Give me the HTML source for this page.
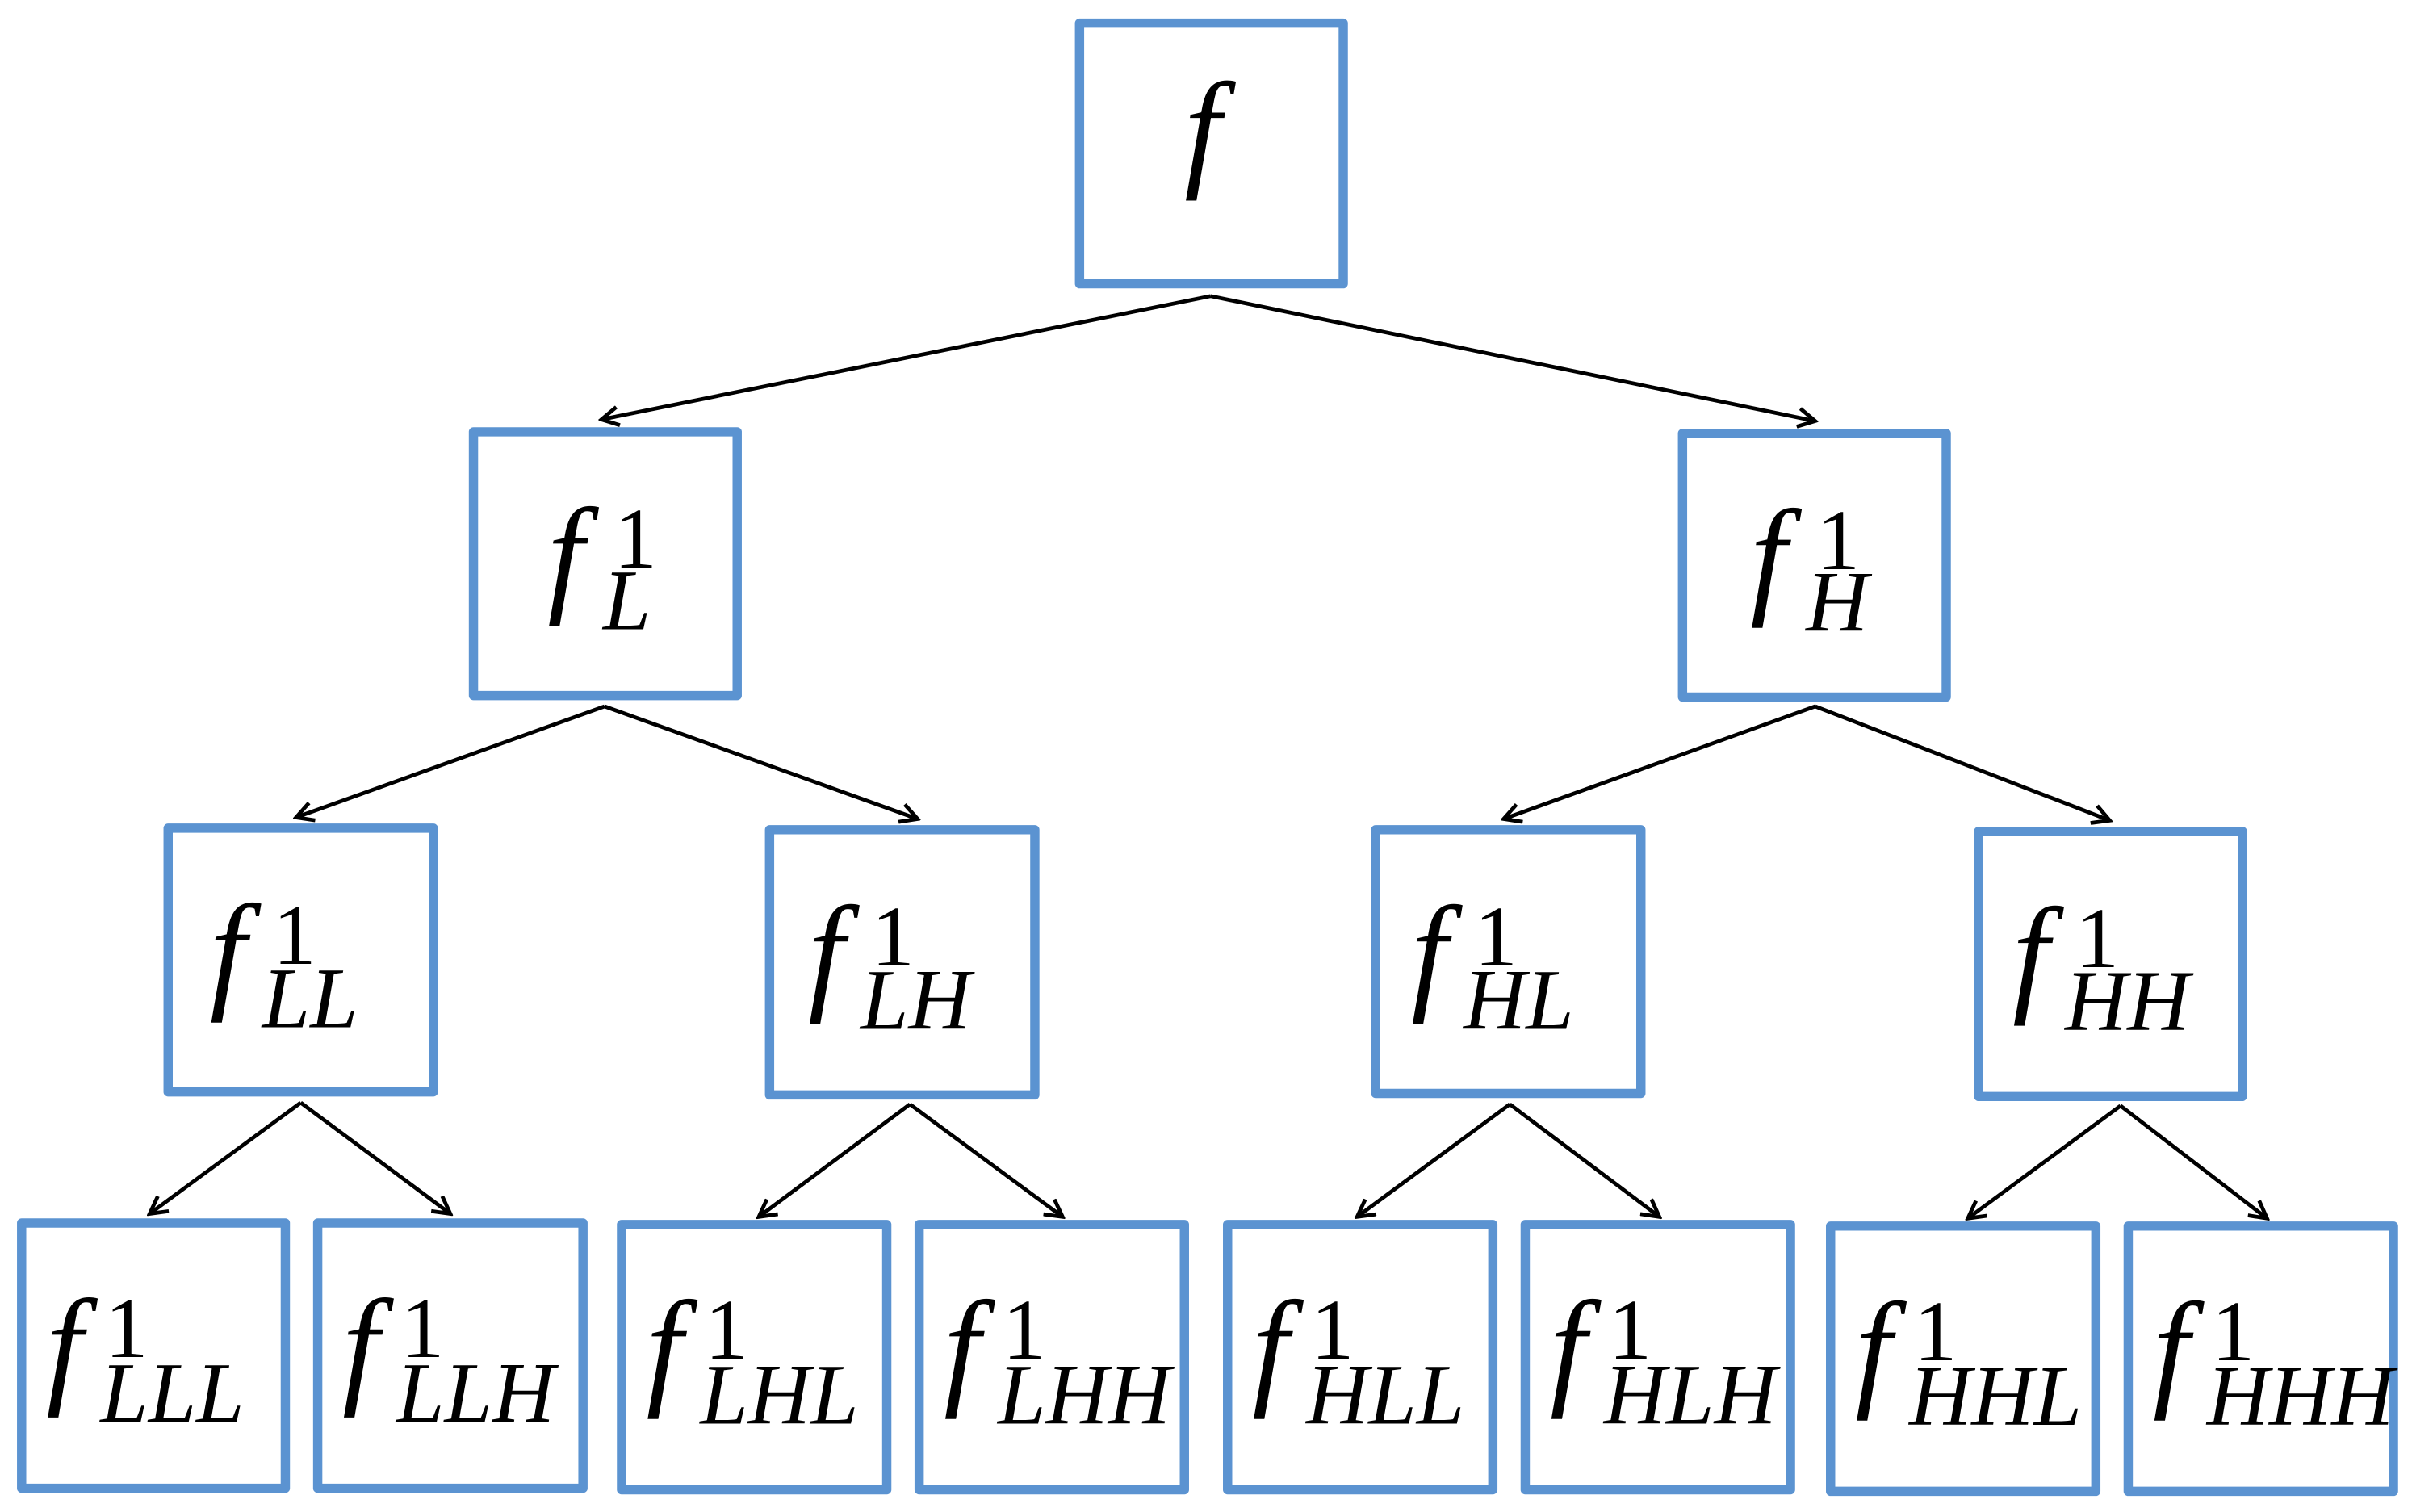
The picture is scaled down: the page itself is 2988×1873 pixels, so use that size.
<!DOCTYPE html>
<html><head><meta charset="utf-8"><style>
html,body{margin:0;padding:0;background:#fff;}
svg{display:block;}
text{font-family:"Liberation Serif",serif;font-style:italic;fill:#000;}
.n{font-style:normal;}
</style></head><body>
<svg width="2988" height="1873" viewBox="0 0 1564 980.4" xmlns="http://www.w3.org/2000/svg">
<defs>
<marker id="a" markerWidth="14" markerHeight="14" refX="12" refY="7" orient="auto" markerUnits="userSpaceOnUse">
<path d="M1,1 L12,7 L1,13" fill="none" stroke="#000" stroke-width="2.5"/>
</marker>
</defs>
<g fill="none" stroke="#5b93d1" stroke-width="6" stroke-linejoin="round">
<rect x="700" y="15" width="171" height="169"/>
<rect x="307" y="280" width="171" height="171"/>
<rect x="1091" y="281" width="171" height="171"/>
<rect x="109" y="537" width="172" height="171"/>
<rect x="499" y="538" width="172" height="172"/>
<rect x="892" y="538" width="172" height="171"/>
<rect x="1283" y="539" width="171" height="172"/>
<rect x="14" y="793" width="171" height="172"/>
<rect x="206" y="793" width="172" height="172"/>
<rect x="403" y="794" width="172" height="172"/>
<rect x="596" y="794" width="172" height="172"/>
<rect x="796" y="794" width="172" height="172"/>
<rect x="989" y="794" width="172" height="172"/>
<rect x="1187" y="795" width="172" height="172"/>
<rect x="1380" y="795" width="172" height="172"/>
</g>
<g stroke="#000" stroke-width="2.5" marker-end="url(#a)">
<line x1="785" y1="192" x2="390" y2="272"/>
<line x1="785" y1="192" x2="1177" y2="273"/>
<line x1="392" y1="458" x2="192" y2="530"/>
<line x1="392" y1="458" x2="595" y2="531"/>
<line x1="1177" y1="458" x2="975" y2="531"/>
<line x1="1177" y1="458" x2="1368" y2="532"/>
<line x1="195" y1="715" x2="97" y2="787"/>
<line x1="195" y1="715" x2="292" y2="787"/>
<line x1="590" y1="716" x2="492" y2="789"/>
<line x1="590" y1="716" x2="689" y2="789"/>
<line x1="979" y1="716" x2="880" y2="789"/>
<line x1="979" y1="716" x2="1076" y2="789"/>
<line x1="1375" y1="717" x2="1276" y2="790"/>
<line x1="1375" y1="717" x2="1470" y2="790"/>
</g>
<g font-size="85">
<text x="768" y="112">f</text>
</g>
<!-- level 1 -->
<g>
<text x="355" y="388" font-size="85">f</text><text class="n" x="398" y="368" font-size="56">1</text><text x="391" y="408" font-size="56">L</text>
<text x="1135" y="389" font-size="85">f</text><text class="n" x="1178" y="369" font-size="56">1</text><text x="1171" y="409" font-size="56">H</text>
</g>
<!-- level 2 -->
<g>
<text x="136" y="645" font-size="85">f</text><text class="n" x="177" y="625" font-size="56">1</text><text x="170" y="666" font-size="56">LL</text>
<text x="524" y="646" font-size="85">f</text><text class="n" x="565" y="626" font-size="56">1</text><text x="558" y="667" font-size="56">LH</text>
<text x="915" y="646" font-size="85">f</text><text class="n" x="956" y="626" font-size="56">1</text><text x="949" y="667" font-size="56">HL</text>
<text x="1305" y="647" font-size="85">f</text><text class="n" x="1346" y="627" font-size="56">1</text><text x="1339" y="668" font-size="56">HH</text>
</g>
<!-- level 3 -->
<g>
<text x="30" y="901" font-size="85">f</text><text class="n" x="68" y="880" font-size="56">1</text><text x="65" y="922" font-size="56">LLL</text>
<text x="222" y="901" font-size="85">f</text><text class="n" x="260" y="880" font-size="56">1</text><text x="257" y="922" font-size="56">LLH</text>
<text x="419" y="902" font-size="85">f</text><text class="n" x="457" y="881" font-size="56">1</text><text x="454" y="923" font-size="56">LHL</text>
<text x="612" y="902" font-size="85">f</text><text class="n" x="650" y="881" font-size="56">1</text><text x="647" y="923" font-size="56">LHH</text>
<text x="812" y="902" font-size="85">f</text><text class="n" x="850" y="881" font-size="56">1</text><text x="847" y="923" font-size="56">HLL</text>
<text x="1005" y="902" font-size="85">f</text><text class="n" x="1043" y="881" font-size="56">1</text><text x="1040" y="923" font-size="56">HLH</text>
<text x="1203" y="903" font-size="85">f</text><text class="n" x="1241" y="882" font-size="56">1</text><text x="1238" y="924" font-size="56">HHL</text>
<text x="1396" y="903" font-size="85">f</text><text class="n" x="1434" y="882" font-size="56">1</text><text x="1431" y="924" font-size="56">HHH</text>
</g>
</svg>
</body></html>
